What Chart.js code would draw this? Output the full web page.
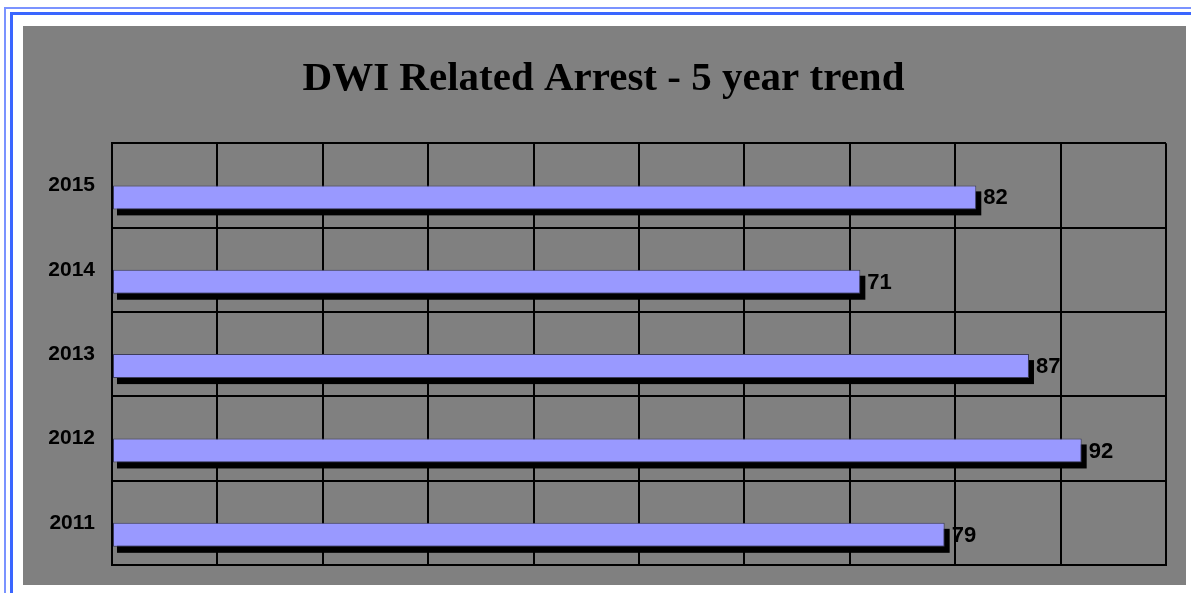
<!DOCTYPE html>
<html>
<head>
<meta charset="utf-8">
<script src="https://cdn.jsdelivr.net/npm/chart.js@4"></script>
<style>
  html, body { margin: 0; padding: 0; background: #fff; overflow: hidden; }
  body { width: 1191px; height: 593px; position: relative; }
  .frame {
    position: absolute; left: 4px; top: 7px; width: 1300px; height: 700px;
    border-left: 2px solid #7b93ff; border-top: 2px solid #7b93ff;
  }
  .frame-inner {
    position: absolute; left: 10px; top: 12px; width: 1300px; height: 700px;
    border-left: 3px solid #3a66ff; border-top: 3px solid #3a66ff;
  }
  .box {
    position: absolute; left: 23px; top: 26px; width: 1163px; height: 559px;
    background: #808080;
  }
</style>
</head>
<body>
<div class="frame"></div>
<div class="frame-inner"></div>
<div class="box"><canvas id="chart" width="1163" height="559"></canvas></div>
<script>
document.addEventListener("DOMContentLoaded", () => {
  // data, top to bottom
  const years = ["2015", "2014", "2013", "2012", "2011"];
  const arrests = [82, 71, 87, 92, 79];
  const xTicks = [0, 10, 20, 30, 40, 50, 60, 70, 80, 90, 100];

  const barColor = "#9999ff";

  // black drop shadow behind each bar
  const shadowPlugin = {
    id: "barShadow",
    beforeDatasetsDraw(chart) {
      const ctx = chart.ctx;
      const meta = chart.getDatasetMeta(1);
      ctx.save();
      ctx.fillStyle = "#000";
      meta.data.forEach(bar => {
        const h = bar.height;
        ctx.fillRect(bar.base + 4, bar.y - h / 2 + 6, bar.x - bar.base + 1, h);
      });
      ctx.restore();
    }
  };

  // value labels at the bar ends
  const labelPlugin = {
    id: "barLabels",
    afterDatasetsDraw(chart) {
      const ctx = chart.ctx;
      const meta = chart.getDatasetMeta(1);
      ctx.save();
      ctx.fillStyle = "#000";
      ctx.font = "bold 22px 'Liberation Sans', Arial, sans-serif";
      ctx.textAlign = "left";
      ctx.textBaseline = "middle";
      meta.data.forEach((bar, i) => {
        ctx.fillText(String(arrests[i]), bar.x + 7, bar.y + 1);
      });
      ctx.restore();
    }
  };

  new Chart(document.getElementById("chart"), {
    type: "bar",
    data: {
      labels: years,
      datasets: [
        { label: "spacer", data: years.map(() => null), backgroundColor: "transparent" },
        {
          label: "DWI Related Arrest",
          data: arrests,
          backgroundColor: barColor,
          borderColor: "#3c3c5a",
          borderWidth: 1,
          borderSkipped: false
        }
      ]
    },
    options: {
      indexAxis: "y",
      responsive: false,
      animation: false,
      categoryPercentage: 0.569,
      barPercentage: 1.0,
      layout: { padding: { left: 18, right: 20, top: 0, bottom: 20 } },
      plugins: {
        legend: { display: false },
        tooltip: { enabled: false },
        title: {
          display: true,
          text: "DWI Related Arrest - 5 year trend",
          color: "#000",
          font: { family: "'Liberation Serif', 'Times New Roman', serif", size: 41, weight: "bold" },
          padding: { top: 29, bottom: 39 }
        }
      },
      scales: {
        x: {
          min: 0,
          max: 100,
          afterBuildTicks: scale => { scale.ticks = xTicks.map(v => ({ value: v })); },
          ticks: { display: false },
          grid: { color: "#000", lineWidth: 2, drawTicks: false },
          border: { color: "#000", width: 2 },
          afterFit: scale => { scale.height = 0; }
        },
        y: {
          offset: true,
          grid: { offset: true, color: "#000", lineWidth: 2, drawTicks: false },
          border: { color: "#000", width: 2 },
          ticks: {
            color: "#000",
            padding: 17,
            font: { family: "'Liberation Sans', Arial, sans-serif", size: 21, weight: "bold" }
          },
          afterFit: scale => {
            scale.width = 71;
            scale.paddingTop = 0;
            scale.paddingBottom = 0;
          }
        }
      }
    },
    plugins: [shadowPlugin, labelPlugin]
  });
});
</script>
</body>
</html>
